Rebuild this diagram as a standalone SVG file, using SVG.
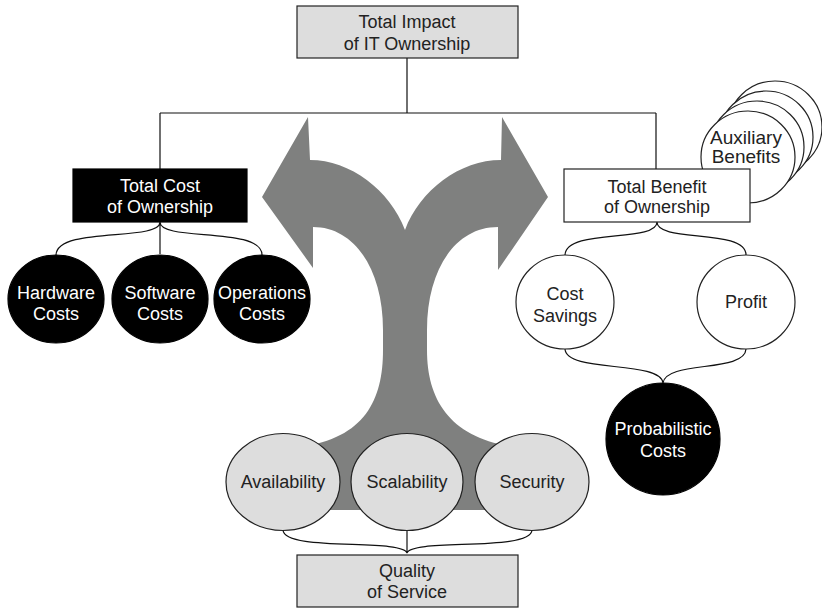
<svg xmlns="http://www.w3.org/2000/svg" width="822" height="608" viewBox="0 0 822 608">
  <defs>
    <style>
      .box-gray { fill: #dddddd; stroke: #222; stroke-width: 1.2; }
      .box-black { fill: #000; stroke: #000; stroke-width: 1.2; }
      .box-white { fill: #fff; stroke: #222; stroke-width: 1.2; }
      .node-black { fill: #000; stroke: #000; stroke-width: 1.2; }
      .node-white { fill: #fff; stroke: #222; stroke-width: 1.2; }
      .node-gray { fill: #dddddd; stroke: #222; stroke-width: 1.2; }
      .link { fill: none; stroke: #111; stroke-width: 1.2; }
      text { font-family: "Liberation Sans", Arial, sans-serif; font-size: 18px; text-anchor: middle; fill: #222; }
      .inv { fill: #fff; }
    </style>
  </defs>
  <rect width="822" height="608" fill="#fff"/>

  <!-- forked arrow behind everything -->
  <g id="fork-arrow">
    <path fill="#7f807f" d="M262,197 L308,117 L310,160 C350,160 390,190 405,230 C420,190 460,160 501,160 L502,117 L548,197 L498,270 L498,227 C455,227 427,270 427,330 L427,350 C427,400 450,438 515,447 L515,500 L485,510 L330,510 L300,500 L300,447 C365,438 383,400 383,350 L383,330 C383,270 355,227 313,227 L313,268 Z"/>
  </g>

  <!-- connectors -->
  <g id="connectors">
    <path class="link" d="M407,58 V113 M160,113 H656 M160,113 V169 M656,113 V169"/>
    <path class="link" d="M160,222 C160,242 57,226 56,255 M160,222 V254 M160,222 C160,242 262,226 262,255"/>
    <path class="link" d="M657,222 C657,243 566,228 565,255 M657,222 C657,243 746,228 746,255"/>
    <path class="link" d="M565,349 C566,373 660,360 663,383 M746,349 C745,373 666,360 663,383"/>
    <path class="link" d="M283,530 C284,552 402,538 407,553 M407,531 V553 M532,530 C531,552 412,538 407,553"/>
  </g>

  <g id="total-impact">
    <rect class="box-gray" x="297" y="6" width="221" height="52"/>
    <text x="407" y="28">Total Impact</text>
    <text x="407" y="50">of IT Ownership</text>
  </g>

  <g id="total-cost">
    <rect class="box-black" x="73" y="169" width="174" height="53"/>
    <text class="inv" x="160" y="192">Total Cost</text>
    <text class="inv" x="160" y="213">of Ownership</text>
  </g>

  <g id="hardware-costs">
    <ellipse class="node-black" cx="56" cy="299" rx="48" ry="44"/>
    <text class="inv" x="56" y="299">Hardware</text>
    <text class="inv" x="56" y="320">Costs</text>
  </g>
  <g id="software-costs">
    <ellipse class="node-black" cx="160" cy="299" rx="48" ry="44"/>
    <text class="inv" x="160" y="299">Software</text>
    <text class="inv" x="160" y="320">Costs</text>
  </g>
  <g id="operations-costs">
    <ellipse class="node-black" cx="262" cy="299" rx="48" ry="44"/>
    <text class="inv" x="262" y="299">Operations</text>
    <text class="inv" x="262" y="320">Costs</text>
  </g>

  <g id="auxiliary-benefits">
    <ellipse class="node-white" cx="775" cy="127" rx="47" ry="46"/>
    <ellipse class="node-white" cx="766" cy="137" rx="47" ry="46"/>
    <ellipse class="node-white" cx="757" cy="147" rx="47" ry="46"/>
    <ellipse class="node-white" cx="748" cy="157" rx="47" ry="46"/>
    <text x="746" y="144" style="font-size:19px">Auxiliary</text>
    <text x="746" y="163" style="font-size:19px">Benefits</text>
  </g>

  <g id="total-benefit">
    <rect class="box-white" x="564" y="169" width="186" height="53"/>
    <text x="657" y="193">Total Benefit</text>
    <text x="657" y="213">of Ownership</text>
  </g>

  <g id="cost-savings">
    <ellipse class="node-white" cx="565" cy="302" rx="49" ry="47"/>
    <text x="565" y="300">Cost</text>
    <text x="565" y="322">Savings</text>
  </g>
  <g id="profit">
    <ellipse class="node-white" cx="746" cy="302" rx="49" ry="47"/>
    <text x="746" y="308">Profit</text>
  </g>

  <g id="probabilistic-costs">
    <ellipse class="node-black" cx="663" cy="439" rx="57" ry="56"/>
    <text class="inv" x="663" y="435">Probabilistic</text>
    <text class="inv" x="663" y="457">Costs</text>
  </g>

  <g id="availability">
    <ellipse class="node-gray" cx="283" cy="482" rx="57" ry="48.5"/>
    <text x="283" y="488">Availability</text>
  </g>
  <g id="scalability">
    <ellipse class="node-gray" cx="407" cy="482" rx="56" ry="48.5"/>
    <text x="407" y="488">Scalability</text>
  </g>
  <g id="security">
    <ellipse class="node-gray" cx="532" cy="482" rx="57" ry="48.5"/>
    <text x="532" y="488">Security</text>
  </g>

  <g id="quality-of-service">
    <rect class="box-gray" x="297" y="555" width="221" height="52"/>
    <text x="407" y="577">Quality</text>
    <text x="407" y="598">of Service</text>
  </g>
</svg>
